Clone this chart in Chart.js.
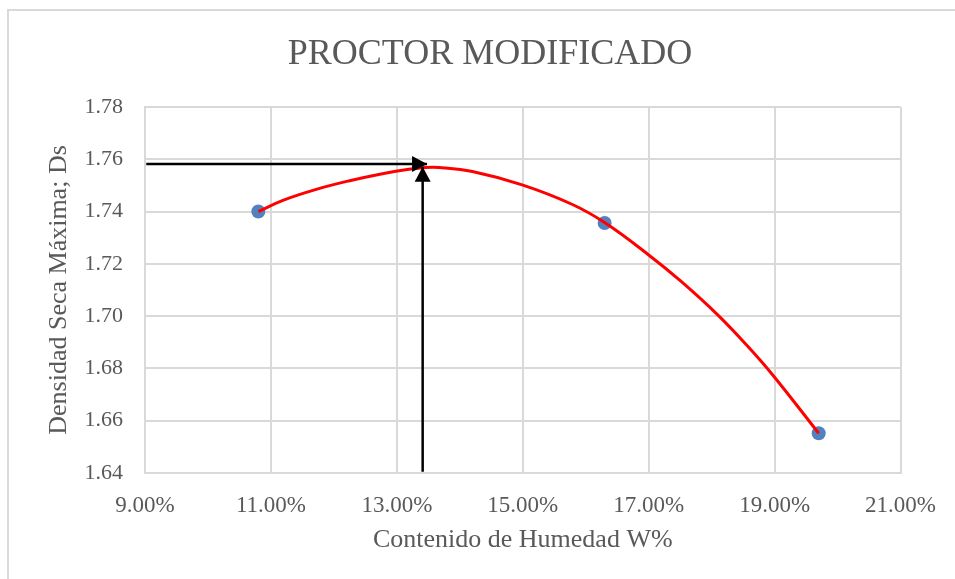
<!DOCTYPE html>
<html>
<head>
<meta charset="utf-8">
<script src="https://cdn.jsdelivr.net/npm/chart.js@4"></script>
<style>
  html, body { margin: 0; padding: 0; background: #fff; overflow: hidden; }
  #marco { position: absolute; left: 7px; top: 9px; width: 2000px; height: 2000px; border: 2px solid #d9d9d9; }
  #zona { position: absolute; left: 0; top: 0; width: 955px; height: 579px; }
</style>
</head>
<body>
<div id="marco"></div>
<div id="zona"><canvas id="grafico" width="955" height="579"></canvas></div>
<script>
// Proctor modificado: puntos del ensayo, curva de ajuste y flechas del optimo

const titulo = 'PROCTOR MODIFICADO';
const tituloX = 'Contenido de Humedad W%';
const tituloY = 'Densidad Seca Máxima; Ds';

// puntos del ensayo (W%, Ds)
const humedad = [10.80, 16.30, 19.70];
const densidad = [1.7400, 1.7356, 1.6552];

// curva de ajuste
const curvaX = [10.80, 11.19, 11.72, 12.25, 12.77, 13.19, 13.45, 13.67, 14.20, 14.99, 15.78, 16.30, 16.99, 17.52, 18.10, 18.58, 18.97, 19.70];
const curvaY = [1.7400, 1.7443, 1.7485, 1.7518, 1.7545, 1.7562, 1.7569, 1.7569, 1.7553, 1.7502, 1.7428, 1.7358, 1.7236, 1.7132, 1.7004, 1.6883, 1.6775, 1.6552];

// flechas hacia el optimo
const flechaHX = [9.02, 13.48];
const flechaHY = [1.7582, 1.7582];
const flechaVX = [13.41, 13.41];
const flechaVY = [1.6405, 1.7571];

// ticks de los ejes
const ticksX = [9, 11, 13, 15, 17, 19, 21];
const ticksY = [1.64, 1.66, 1.68, 1.70, 1.72, 1.74, 1.76, 1.78];

const gris = '#595959';
const fuente = '"Liberation Serif", "Times New Roman", serif';

function pares(xs, ys) {
  return xs.map((x, i) => ({ x: x, y: ys[i] }));
}

// dibuja la punta de flecha en el ultimo punto del dataset
const puntas = {
  id: 'puntas',
  afterDatasetsDraw(chart) {
    const ctx = chart.ctx;
    chart.data.datasets.forEach((ds, i) => {
      if (!ds.flecha) return;
      const pts = chart.getDatasetMeta(i).data;
      const a = pts[pts.length - 2], b = pts[pts.length - 1];
      const ang = Math.atan2(b.y - a.y, b.x - a.x);
      const largo = 15, ancho = 8;
      ctx.save();
      ctx.translate(b.x, b.y);
      ctx.rotate(ang);
      ctx.beginPath();
      ctx.moveTo(0, 0);
      ctx.lineTo(-largo, -ancho);
      ctx.lineTo(-largo, ancho);
      ctx.closePath();
      ctx.fillStyle = '#000';
      ctx.fill();
      ctx.restore();
    });
  }
};

// titulo centrado sobre el marco del grafico
const tituloPlugin = {
  id: 'tituloPlugin',
  afterDraw(chart) {
    const ctx = chart.ctx;
    ctx.save();
    ctx.font = '36px ' + fuente;
    ctx.fillStyle = gris;
    ctx.textAlign = 'center';
    ctx.textBaseline = 'middle';
    ctx.fillText(titulo, 490, 55);
    ctx.restore();
  }
};

new Chart(document.getElementById('grafico'), {
  type: 'scatter',
  data: {
    datasets: [
      {
        data: pares(flechaHX, flechaHY), showLine: true, flecha: true,
        borderColor: '#000', borderWidth: 2.5, pointRadius: 0, borderCapStyle: 'butt'
      },
      {
        data: pares(flechaVX, flechaVY), showLine: true, flecha: true,
        borderColor: '#000', borderWidth: 2.5, pointRadius: 0, borderCapStyle: 'butt'
      },
      {
        data: pares(curvaX, curvaY), showLine: true,
        borderColor: '#ff0000', borderWidth: 3, pointRadius: 0,
        tension: 0.4
      },
      {
        data: pares(humedad, densidad),
        pointRadius: 7, pointBackgroundColor: '#5182bf', pointBorderWidth: 0
      }
    ]
  },
  options: {
    responsive: false,
    animation: false,
    layout: { padding: { left: 8, top: 107, right: 52, bottom: 0 } },
    plugins: { legend: { display: false }, tooltip: { enabled: false }, title: { display: false } },
    scales: {
      x: {
        type: 'linear', min: 9, max: 21,
        afterFit: s => { s.height = 106; },
        afterBuildTicks: s => { s.ticks = ticksX.map(v => ({ value: v })); },
        grid: { color: '#d9d9d9', lineWidth: 2, drawTicks: false },
        border: { color: '#d9d9d9', width: 2 },
        ticks: {
          color: gris, padding: 19, font: { family: fuente, size: 23 },
          callback: v => v.toFixed(2) + '%'
        },
        title: {
          display: true, text: tituloX, color: gris,
          font: { family: fuente, size: 26 }, padding: { top: 0, bottom: 23 }
        }
      },
      y: {
        min: 1.64, max: 1.78,
        afterFit: s => { s.width = 137; },
        afterBuildTicks: s => { s.ticks = ticksY.map(v => ({ value: v })); },
        grid: { color: '#d9d9d9', lineWidth: 2, drawTicks: false },
        border: { color: '#d9d9d9', width: 2 },
        ticks: {
          color: gris, padding: 22, font: { family: fuente, size: 22 },
          callback: v => v.toFixed(2)
        },
        title: {
          display: true, text: tituloY, color: gris,
          font: { family: fuente, size: 26 }, padding: { top: 36, bottom: 0 }
        }
      }
    }
  },
  plugins: [puntas, tituloPlugin]
});
</script>
</body>
</html>
